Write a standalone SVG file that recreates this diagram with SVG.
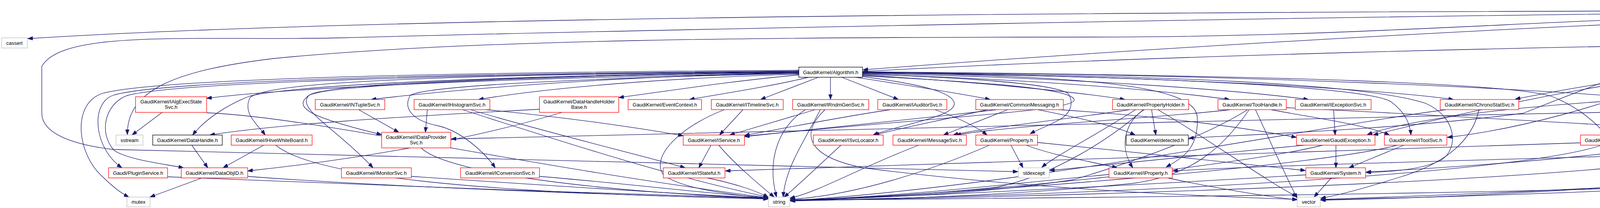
<svg xmlns="http://www.w3.org/2000/svg" width="5580" height="533" viewBox="0 0 5580 533">
<style>
.e{fill:none;stroke:#191970;stroke-width:1.3}
.n rect{fill:#fff;stroke-width:1.3}
.r rect{stroke:#ff0000}
.k rect{stroke:#000}
.g rect{stroke:#bfbfbf}
.f rect{fill:#bfbfbf;stroke:#000}
text{font-family:"Liberation Sans",Arial,Helvetica,sans-serif;font-size:13px;text-anchor:middle;fill:#000}
</style>
<defs>
<marker id="ah" viewBox="0 0 13 9.4" refX="13" refY="4.7" markerWidth="13" markerHeight="9.4" markerUnits="userSpaceOnUse" orient="auto"><path d="M0,0L13,4.7L0,9.4z" fill="#191970" stroke="#191970" stroke-width="1"/></marker>
</defs>
<rect width="5580" height="533" fill="#fff"/>
<g id="edges">
<path class="e" marker-end="url(#ah)" d="M4670,27C3000,30 1000,40 71,99"/>
<path class="e" marker-end="url(#ah)" d="M4670,31C3500,38 1500,80 870,97C500,105 160,75 107,170L107,290C107,340 180,370 290,383C700,400 2000,420 2606,440"/>
<path class="e" marker-end="url(#ah)" d="M4670,34C4000,45 3500,95 2800,95C2000,95 1200,100 700,150C450,180 325,230 326,345"/>
<path class="e" marker-end="url(#ah)" d="M4670,44C4100,55 2900,125 2209,179"/>
<path class="e" marker-end="url(#ah)" d="M4670,46C4400,100 4200,170 3900,290C3600,330 3200,345 3043,354"/>
<path class="e" marker-end="url(#ah)" d="M4771,47C4785,150 4720,240 4500,244C4100,250 3650,290 3500,345"/>
<path class="e" marker-end="url(#ah)" d="M4716,47L4590,96"/>
<path class="e" marker-end="url(#ah)" d="M4779,47L4892,254"/>
<path class="e" marker-end="url(#ah)" d="M4803,47L4986,171"/>
<path class="e" marker-end="url(#ah)" d="M4866,42L5239,97"/>
<path class="e" marker-end="url(#ah)" d="M4866,38L5424,99"/>
<path class="e" marker-end="url(#ah)" d="M4866,46C5000,60 5198,130 5198,190L5198,300C5198,350 5170,395 5140,429"/>
<path class="e" marker-end="url(#ah)" d="M4866,50C5000,80 5129,150 5129,210C5129,280 5000,320 4879,350"/>
<path class="e" marker-end="url(#ah)" d="M4460,113C4000,120 3000,140 2209,183"/>
<path class="e" marker-end="url(#ah)" d="M4520,123L4402,171"/>
<path class="e" marker-end="url(#ah)" d="M4566,123L4633,171"/>
<path class="e" marker-end="url(#ah)" d="M4595,123C4700,150 4800,200 4886,254"/>
<path class="e" marker-end="url(#ah)" d="M4550,123C4552,250 4556,400 4521,458C4480,490 3000,505 2023,513"/>
<path class="e" marker-end="url(#ah)" d="M4553,123C4560,200 4600,219 4686,219C4760,230 4760,380 4686,427C4600,460 4000,490 3381,511"/>
<path class="e" marker-end="url(#ah)" d="M4368,198L4368,254"/>
<path class="e" marker-end="url(#ah)" d="M4280,191C4100,210 3950,240 3879,254"/>
<path class="e" marker-end="url(#ah)" d="M4458,195C4600,210 4750,235 4821,254"/>
<path class="e" marker-end="url(#ah)" d="M4295,198C4100,270 3900,330 3705,352"/>
<path class="e" marker-end="url(#ah)" d="M4413,198C4480,230 4490,270 4487,290C4480,315 4450,325 4410,330C4330,340 4260,345 4214,352"/>
<path class="e" marker-end="url(#ah)" d="M4280,194C4000,230 3700,300 3515,346"/>
<path class="e" marker-end="url(#ah)" d="M4428,198C4500,239 4510,300 4461,324C4400,355 4300,370 4257,376C4000,410 3700,430 3497,441"/>
<path class="e" marker-end="url(#ah)" d="M4440,198C4520,260 4530,330 4450,380C4300,450 3000,500 2023,514"/>
<path class="e" marker-end="url(#ah)" d="M4452,198C4560,240 4600,300 4600,340C4600,400 4560,430 4480,445C4350,470 3800,505 3381,513"/>
<path class="e" marker-end="url(#ah)" d="M4796,274C3500,300 2000,330 1155,356"/>
<path class="e" marker-end="url(#ah)" d="M4895,281L4850,346"/>
<path class="e" marker-end="url(#ah)" d="M4925,281L5027,346"/>
<path class="e" marker-end="url(#ah)" d="M4907,281C4915,340 4900,379 4850,380C4200,400 3300,420 3002,438"/>
<path class="e" marker-end="url(#ah)" d="M4992,198L4922,254"/>
<path class="e" marker-end="url(#ah)" d="M5069,372L5110,430"/>
<path class="e" marker-end="url(#ah)" d="M4335,281L4164,346"/>
<path class="e" marker-end="url(#ah)" d="M4390,281C4461,324 4532,380 4538,430C4540,455 4512,461 4450,470C4200,490 3700,505 3381,512"/>
<path class="e" marker-end="url(#ah)" d="M4100,372C3900,440 3000,495 2023,514"/>
<path class="e" marker-end="url(#ah)" d="M4046,366C3500,380 2500,420 1857,438"/>
<path class="e" marker-end="url(#ah)" d="M3786,281C3770,360 3700,420 3580,455C3500,480 3430,500 3381,508"/>
<path class="e" marker-end="url(#ah)" d="M3702,281C3400,320 2600,480 2023,514"/>
<path class="e" marker-end="url(#ah)" d="M3594,372L3453,430"/>
<path class="e" marker-end="url(#ah)" d="M3577,372C3400,420 2600,490 2023,514"/>
<path class="e" marker-end="url(#ah)" d="M3420,372L3420,430"/>
<path class="e" marker-end="url(#ah)" d="M3386,372C3200,420 2500,500 2023,514"/>
<path class="e" marker-end="url(#ah)" d="M3340,372C3100,395 2800,425 2687,437"/>
<path class="e" marker-end="url(#ah)" d="M3408,456L3364,505"/>
<path class="e" marker-end="url(#ah)" d="M3343,448C3000,470 2300,505 2023,514"/>
<path class="e" marker-end="url(#ah)" d="M3414,281L3418,346"/>
<path class="e" marker-end="url(#ah)" d="M3198,281C3130,380 3050,450 2900,470C2600,500 2300,510 2023,515"/>
<path class="e" marker-end="url(#ah)" d="M3194,281C3100,340 2950,400 2750,460C2500,500 2200,508 2023,512"/>
<path class="e" marker-end="url(#ah)" d="M3214,281C3260,380 3300,470 3321,508"/>
<path class="e" marker-end="url(#ah)" d="M3254,281C3350,300 3500,320 3557,346"/>
<path class="e" marker-end="url(#ah)" d="M3293,276C3800,300 4400,340 4795,355"/>
<path class="e" marker-end="url(#ah)" d="M3150,281C3000,300 2600,320 2447,346"/>
<path class="e" marker-end="url(#ah)" d="M2948,281L2959,346"/>
<path class="e" marker-end="url(#ah)" d="M2929,281C2886,307 2860,370 2900,430"/>
<path class="e" marker-end="url(#ah)" d="M2907,281C2800,350 2700,400 2667,429"/>
<path class="e" marker-end="url(#ah)" d="M2927,281C2850,350 2700,450 2550,480C2300,505 2100,512 2023,514"/>
<path class="e" marker-end="url(#ah)" d="M2892,281C2700,310 2500,330 2440,346"/>
<path class="e" marker-end="url(#ah)" d="M2964,281C3100,360 3250,470 3321,504"/>
<path class="e" marker-end="url(#ah)" d="M2528,281C2400,310 2300,330 2238,346"/>
<path class="e" marker-end="url(#ah)" d="M2553,281C2300,310 2000,340 1906,350"/>
<path class="e" marker-end="url(#ah)" d="M2580,281L2415,346"/>
<path class="e" marker-end="url(#ah)" d="M2657,281C2750,300 2850,320 2906,346"/>
<path class="e" marker-end="url(#ah)" d="M2710,281C3000,300 3200,330 3319,352"/>
<path class="e" marker-end="url(#ah)" d="M2280,281C2150,300 2000,330 1906,347"/>
<path class="e" marker-end="url(#ah)" d="M2393,281C2450,300 2500,325 2527,346"/>
<path class="e" marker-end="url(#ah)" d="M2656,365C2900,390 3200,420 3342,437"/>
<path class="e" marker-end="url(#ah)" d="M2087,281L1868,346"/>
<path class="e" marker-end="url(#ah)" d="M2062,281C2000,320 1960,400 1988,505"/>
<path class="e" marker-end="url(#ah)" d="M2112,281C2050,340 2060,400 2210,430C2600,480 3000,500 3321,511"/>
<path class="e" marker-end="url(#ah)" d="M2100,281C2060,360 2010,430 2005,505"/>
<path class="e" marker-end="url(#ah)" d="M1902,281L1842,346"/>
<path class="e" marker-end="url(#ah)" d="M1855,281C1750,320 1660,400 1700,450C1760,490 1900,500 1967,510"/>
<path class="e" marker-end="url(#ah)" d="M1820,372L1789,430"/>
<path class="e" marker-end="url(#ah)" d="M1840,372C1880,420 1940,470 1982,505"/>
<path class="e" marker-end="url(#ah)" d="M1811,456C1880,470 1940,490 1967,506"/>
<path class="e" marker-end="url(#ah)" d="M2153,372C2100,420 2050,470 2007,505"/>
<path class="e" marker-end="url(#ah)" d="M2352,372C2200,430 2100,490 2022,508"/>
<path class="e" marker-end="url(#ah)" d="M2588,372L2619,430"/>
<path class="e" marker-end="url(#ah)" d="M2533,372C2400,430 2200,500 2022,511"/>
<path class="e" marker-end="url(#ah)" d="M2627,372C2700,400 2800,415 2860,430"/>
<path class="e" marker-end="url(#ah)" d="M2839,447C2600,470 2300,505 2022,513"/>
<path class="e" marker-end="url(#ah)" d="M2989,456C3100,480 3250,505 3321,512"/>
<path class="e" marker-end="url(#ah)" d="M1094,281L1089,339"/>
<path class="e" marker-end="url(#ah)" d="M1243,281C1450,300 1650,330 1749,348"/>
<path class="e" marker-end="url(#ah)" d="M1184,281C1400,350 1700,450 1967,505"/>
<path class="e" marker-end="url(#ah)" d="M1204,281C1400,340 1650,400 1754,430"/>
<path class="e" marker-end="url(#ah)" d="M1078,379C1150,450 1600,495 1967,508"/>
<path class="e" marker-end="url(#ah)" d="M918,281L1021,339"/>
<path class="e" marker-end="url(#ah)" d="M1381,280C1000,300 700,320 537,346"/>
<path class="e" marker-end="url(#ah)" d="M1439,288C1200,360 900,410 634,438"/>
<path class="e" marker-end="url(#ah)" d="M415,288L338,346"/>
<path class="e" marker-end="url(#ah)" d="M529,289C800,300 1300,420 1967,507"/>
<path class="e" marker-end="url(#ah)" d="M491,372L532,430"/>
<path class="e" marker-end="url(#ah)" d="M675,372L571,430"/>
<path class="e" marker-end="url(#ah)" d="M706,372C800,450 1200,495 1967,509"/>
<path class="e" marker-end="url(#ah)" d="M517,456L384,505"/>
<path class="e" marker-end="url(#ah)" d="M634,452C1000,480 1600,500 1967,510"/>
<path class="e" marker-end="url(#ah)" d="M428,453C800,470 1500,495 1967,508"/>
<path class="e" marker-end="url(#ah)" d="M1053,452C1400,475 1700,495 1967,508"/>
<path class="e" marker-end="url(#ah)" d="M1381,452C1600,470 1800,495 1967,507"/>
<path class="e" marker-end="url(#ah)" d="M2045,188C1200,200 700,230 529,252"/>
<path class="e" marker-end="url(#ah)" d="M2045,190C1700,200 1400,225 1225,255"/>
<path class="e" marker-end="url(#ah)" d="M2045,192C1850,210 1700,235 1584,250"/>
<path class="e" marker-end="url(#ah)" d="M2070,198C1980,220 1850,240 1765,255"/>
<path class="e" marker-end="url(#ah)" d="M2095,198L1947,255"/>
<path class="e" marker-end="url(#ah)" d="M2126,198L2126,255"/>
<path class="e" marker-end="url(#ah)" d="M2155,198L2300,255"/>
<path class="e" marker-end="url(#ah)" d="M2190,198C2300,215 2450,238 2535,255"/>
<path class="e" marker-end="url(#ah)" d="M2208,192C2500,210 2750,235 2880,255"/>
<path class="e" marker-end="url(#ah)" d="M2208,190C2700,205 3000,235 3148,255"/>
<path class="e" marker-end="url(#ah)" d="M2208,188C2800,200 3200,235 3350,255"/>
<path class="e" marker-end="url(#ah)" d="M2208,186C3000,195 3550,230 3721,255"/>
<path class="e" marker-end="url(#ah)" d="M2208,184C3200,190 4000,230 4268,258"/>
<path class="e" marker-end="url(#ah)" d="M2045,186C1600,195 1200,225 950,255"/>
<path class="e" marker-end="url(#ah)" d="M2045,184C1000,192 680,215 640,250C620,290 660,320 679,346"/>
<path class="e" marker-end="url(#ah)" d="M2045,185C1300,195 830,220 790,245C750,275 790,300 977,345"/>
<path class="e" marker-end="url(#ah)" d="M2045,186C1300,195 820,215 790,245C760,280 850,320 955,430"/>
<path class="e" marker-end="url(#ah)" d="M2045,188C1500,200 1080,220 1050,245C1030,280 1060,310 1120,322C1180,335 1240,390 1268,430"/>
<path class="e" marker-end="url(#ah)" d="M2045,180C1200,185 400,200 260,240C180,270 200,400 264,454C290,480 310,495 330,505"/>
<path class="e" marker-end="url(#ah)" d="M2045,182C1200,188 420,205 290,244C230,265 240,380 312,430"/>
<path class="e" marker-end="url(#ah)" d="M2045,183C1200,190 450,210 325,245C270,265 250,340 293,386C330,410 420,420 470,430"/>
<path class="e" marker-end="url(#ah)" d="M2045,184C1200,195 750,220 640,246C590,265 530,300 493,346"/>
<path class="e" marker-end="url(#ah)" d="M2208,194C2500,210 2740,225 2750,255C2755,285 2400,300 1906,349"/>
<path class="e" marker-end="url(#ah)" d="M2208,196C2350,215 2440,235 2443,265C2445,300 2300,320 2235,346"/>
<path class="e" marker-end="url(#ah)" d="M2208,190C2500,200 2700,215 2735,240C2750,265 2740,290 2715,305C2690,320 2660,330 2637,343"/>
<path class="e" marker-end="url(#ah)" d="M2208,186C2800,195 3060,220 3065,300C3068,370 3040,400 2985,428"/>
<path class="e" marker-end="url(#ah)" d="M2208,187C3000,195 3500,225 3560,260C3600,290 3610,320 3612,346"/>
<path class="e" marker-end="url(#ah)" d="M2208,185C3300,192 3900,215 3980,250C4050,280 4090,320 4112,346"/>
<path class="e" marker-end="url(#ah)" d="M2208,186C3000,192 3500,215 3650,265C3730,300 3735,380 3690,410C3640,435 3560,440 3497,442"/>
</g>
<g id="node-FD" class="n f"><rect x="4670" y="6" width="196" height="41"/><text x="4768" y="23">GaudiAlg/GaudiAlg/Functional</text><text x="4768" y="37">Details.h</text></g>
<g id="node-cassert" class="n g"><rect x="4" y="97" width="66" height="26"/><text x="37" y="114.5">cassert</text></g>
<g id="node-GA" class="n k"><rect x="4460" y="97" width="179" height="26"/><text x="4549.5" y="114.5">GaudiAlg/GaudiAlgorithm.h</text></g>
<g id="node-rconst" class="n g"><rect x="5236" y="97" width="164" height="26"/><text x="5318" y="114.5">range/v3/view/const.hpp</text></g>
<g id="node-rzip" class="n g"><rect x="5425" y="97" width="149" height="26"/><text x="5499.5" y="114.5">range/v3/view/zip.hpp</text></g>
<g id="node-ALG" class="n k"><rect x="2045" y="172" width="163" height="26"/><text x="2126.5" y="189.5">GaudiKernel/Algorithm.h</text></g>
<g id="node-GC" class="n r"><rect x="4280" y="172" width="178" height="26"/><text x="4369" y="189.5">GaudiAlg/GaudiCommon.h</text></g>
<g id="node-GAH" class="n k"><rect x="4587" y="172" width="143" height="26"/><text x="4658.5" y="189.5">GaudiAlg/GaudiAlg.h</text></g>
<g id="node-ADH" class="n k"><rect x="4906" y="172" width="201" height="26"/><text x="5006.5" y="189.5">GaudiKernel/AnyDataHandle.h</text></g>
<g id="node-AES" class="n r"><rect x="347" y="248" width="182" height="40"/><text x="438" y="265">GaudiKernel/IAlgExecState</text><text x="438" y="279">Svc.h</text></g>
<g id="node-NT" class="n r"><rect x="807" y="255" width="178" height="26"/><text x="896" y="272.5">GaudiKernel/INTupleSvc.h</text></g>
<g id="node-HS" class="n r"><rect x="1060" y="255" width="194" height="26"/><text x="1157" y="272.5">GaudiKernel/IHistogramSvc.h</text></g>
<g id="node-DHHB" class="n r"><rect x="1381" y="248" width="203" height="40"/><text x="1482.5" y="265">GaudiKernel/DataHandleHolder</text><text x="1482.5" y="279">Base.h</text></g>
<g id="node-EC" class="n r"><rect x="1608" y="255" width="188" height="26"/><text x="1702" y="272.5">GaudiKernel/EventContext.h</text></g>
<g id="node-TL" class="n r"><rect x="1821" y="255" width="184" height="26"/><text x="1913" y="272.5">GaudiKernel/ITimelineSvc.h</text></g>
<g id="node-RG" class="n r"><rect x="2029" y="255" width="195" height="26"/><text x="2126.5" y="272.5">GaudiKernel/IRndmGenSvc.h</text></g>
<g id="node-AU" class="n r"><rect x="2247" y="255" width="177" height="26"/><text x="2335.5" y="272.5">GaudiKernel/IAuditorSvc.h</text></g>
<g id="node-CM" class="n r"><rect x="2498" y="255" width="224" height="26"/><text x="2610" y="272.5">GaudiKernel/CommonMessaging.h</text></g>
<g id="node-PH" class="n r"><rect x="2848" y="255" width="195" height="26"/><text x="2945.5" y="272.5">GaudiKernel/PropertyHolder.h</text></g>
<g id="node-TH" class="n r"><rect x="3118" y="255" width="175" height="26"/><text x="3205.5" y="272.5">GaudiKernel/ToolHandle.h</text></g>
<g id="node-ES" class="n r"><rect x="3316" y="255" width="194" height="26"/><text x="3413" y="272.5">GaudiKernel/IExceptionSvc.h</text></g>
<g id="node-CS" class="n r"><rect x="3687" y="255" width="201" height="26"/><text x="3787.5" y="272.5">GaudiKernel/IChronoStatSvc.h</text></g>
<g id="node-ACS" class="n r"><rect x="4268" y="255" width="200" height="26"/><text x="4368" y="272.5">GaudiKernel/IAlgContextSvc.h</text></g>
<g id="node-DOH" class="n r"><rect x="4796" y="255" width="215" height="26"/><text x="4903.5" y="272.5">GaudiKernel/DataObjectHandle.h</text></g>
<g id="node-SS" class="n g"><rect x="297" y="346" width="69" height="26"/><text x="331.5" y="363.5">sstream</text></g>
<g id="node-DH" class="n k"><rect x="391" y="346" width="178" height="26"/><text x="480" y="363.5">GaudiKernel/DataHandle.h</text></g>
<g id="node-HWB" class="n r"><rect x="592" y="346" width="207" height="26"/><text x="695.5" y="363.5">GaudiKernel/IHiveWhiteBoard.h</text></g>
<g id="node-DPS" class="n r"><rect x="977" y="339" width="177" height="40"/><text x="1065.5" y="356">GaudiKernel/IDataProvider</text><text x="1065.5" y="370">Svc.h</text></g>
<g id="node-SVC" class="n r"><rect x="1749" y="346" width="157" height="26"/><text x="1827.5" y="363.5">GaudiKernel/IService.h</text></g>
<g id="node-SL" class="n r"><rect x="2082" y="346" width="179" height="26"/><text x="2171.5" y="363.5">GaudiKernel/ISvcLocator.h</text></g>
<g id="node-MS" class="n r"><rect x="2286" y="346" width="188" height="26"/><text x="2380" y="363.5">GaudiKernel/IMessageSvc.h</text></g>
<g id="node-PROP" class="n r"><rect x="2498" y="346" width="158" height="26"/><text x="2577" y="363.5">GaudiKernel/Property.h</text></g>
<g id="node-DET" class="n k"><rect x="2883" y="346" width="159" height="26"/><text x="2962.5" y="363.5">GaudiKernel/detected.h</text></g>
<g id="node-GE" class="n r"><rect x="3319" y="346" width="201" height="26"/><text x="3419.5" y="363.5">GaudiKernel/GaudiException.h</text></g>
<g id="node-TS" class="n r"><rect x="3544" y="346" width="160" height="26"/><text x="3624" y="363.5">GaudiKernel/IToolSvc.h</text></g>
<g id="node-IA" class="n r"><rect x="4046" y="346" width="167" height="26"/><text x="4129.5" y="363.5">GaudiKernel/IAlgorithm.h</text></g>
<g id="node-TT" class="n g"><rect x="4796" y="346" width="82" height="26"/><text x="4837" y="363.5">type_traits</text></g>
<g id="node-ADW" class="n r"><rect x="4953" y="346" width="209" height="26"/><text x="5057.5" y="363.5">GaudiKernel/AnyDataWrapper.h</text></g>
<g id="node-PS" class="n r"><rect x="278" y="430" width="151" height="26"/><text x="353.5" y="447.5">Gaudi/PluginService.h</text></g>
<g id="node-DOID" class="n r"><rect x="464" y="430" width="170" height="26"/><text x="549" y="447.5">GaudiKernel/DataObjID.h</text></g>
<g id="node-MON" class="n r"><rect x="874" y="430" width="179" height="26"/><text x="963.5" y="447.5">GaudiKernel/IMonitorSvc.h</text></g>
<g id="node-CONV" class="n r"><rect x="1179" y="430" width="202" height="26"/><text x="1280" y="447.5">GaudiKernel/IConversionSvc.h</text></g>
<g id="node-STF" class="n r"><rect x="1698" y="430" width="158" height="26"/><text x="1777" y="447.5">GaudiKernel/IStateful.h</text></g>
<g id="node-SE" class="n g"><rect x="2607" y="430" width="79" height="26"/><text x="2646.5" y="447.5">stdexcept</text></g>
<g id="node-IP" class="n r"><rect x="2839" y="430" width="162" height="26"/><text x="2920" y="447.5">GaudiKernel/IProperty.h</text></g>
<g id="node-SYS" class="n r"><rect x="3343" y="430" width="153" height="26"/><text x="3419.5" y="447.5">GaudiKernel/System.h</text></g>
<g id="node-BO" class="n g"><rect x="5064" y="430" width="128" height="26"/><text x="5128" y="447.5">boost/optional.hpp</text></g>
<g id="node-MTX" class="n g"><rect x="325" y="505" width="59" height="25"/><text x="354.5" y="522">mutex</text></g>
<g id="node-STR" class="n g"><rect x="1967" y="505" width="55" height="25"/><text x="1994.5" y="522">string</text></g>
<g id="node-VEC" class="n g"><rect x="3321" y="505" width="59" height="25"/><text x="3350.5" y="522">vector</text></g>
</svg>
